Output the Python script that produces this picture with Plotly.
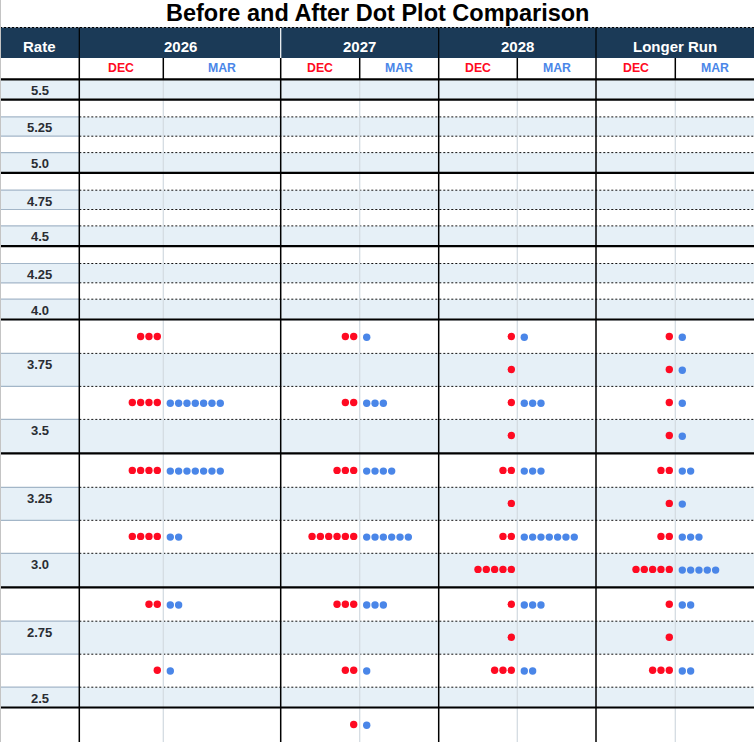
import plotly.graph_objects as go

# ---------------- data ----------------
title_text = "Before and After Dot Plot Comparison"
groups = ["2026", "2027", "2028", "Longer Run"]
sub_labels = ["DEC", "MAR"]

# every table row, top to bottom
row_rates = [5.5, 5.375, 5.25, 5.125, 5.0, 4.875, 4.75, 4.625, 4.5, 4.375, 4.25, 4.125, 4.0,
             3.875, 3.75, 3.625, 3.5, 3.375, 3.25, 3.125, 3.0, 2.875, 2.75, 2.625, 2.5, 2.375]
# labelled rows
label_rates = [5.5, 5.25, 5.0, 4.75, 4.5, 4.25, 4.0, 3.75, 3.5, 3.25, 3.0, 2.75, 2.5]
label_texts = ["5.5", "5.25", "5.0", "4.75", "4.5", "4.25", "4.0", "3.75", "3.5", "3.25", "3.0", "2.75", "2.5"]

# dot counts per rate level
dot_rates = [3.875, 3.75, 3.625, 3.5, 3.375, 3.25, 3.125, 3.0, 2.875, 2.75, 2.625, 2.5, 2.375]
dec_2026 = [3, 0, 4, 0, 4, 0, 4, 0, 2, 0, 1, 0, 0]
mar_2026 = [0, 0, 7, 0, 7, 0, 2, 0, 2, 0, 1, 0, 0]
dec_2027 = [2, 0, 2, 0, 3, 0, 6, 0, 3, 0, 2, 0, 1]
mar_2027 = [1, 0, 3, 0, 4, 0, 6, 0, 3, 0, 1, 0, 1]
dec_2028 = [1, 1, 1, 1, 2, 1, 2, 5, 1, 1, 3, 0, 0]
mar_2028 = [1, 0, 3, 0, 3, 0, 7, 0, 3, 0, 2, 0, 0]
dec_lr = [1, 1, 1, 1, 2, 1, 2, 5, 1, 1, 3, 0, 0]
mar_lr = [1, 1, 1, 1, 2, 1, 3, 5, 2, 0, 2, 0, 0]

dec_counts = [dec_2026, dec_2027, dec_2028, dec_lr]
mar_counts = [mar_2026, mar_2027, mar_2028, mar_lr]

# ---------------- style / layout ----------------
W, H = 754, 742
NAVY = "#1b3a57"
LIGHT = "#e6f0f7"
RED = "#ff0a22"
BLUE = "#4a86e8"
FONT = "Arial, Liberation Sans, sans-serif"

RATE_R = 79.3
group_edges = [79.3, 280.7, 438.7, 596.0, 754.0]
splits = [163.3, 359.7, 517.3, 675.3]
HEAD_TOP, HEAD_BOT, SUB_BOT = 27.5, 58.0, 79.3

has_dots = {}
for i, r in enumerate(dot_rates):
    tot = sum(c[i] for c in dec_counts) + sum(c[i] for c in mar_counts)
    has_dots[r] = tot > 0

def is_label(r):
    return abs(r * 4 - round(r * 4)) < 1e-9

def is_thick(r):
    return abs(r * 2 - round(r * 2)) < 1e-9

# row geometry
row_top, row_bot, row_mid = {}, {}, {}
y = SUB_BOT
for r in row_rates:
    extra = 1.9 if is_thick(r) else 0.0
    if has_dots.get(r, False):
        h = 33.0
    elif is_label(r):
        h = 19.3
    else:
        h = 16.4
    row_top[r] = y
    row_bot[r] = y + h + extra
    row_mid[r] = y + (h) / 2 - 0.4
    y = row_bot[r]

shapes = []
def line(x0, y0, x1, y1, color, width, dash=None):
    d = dict(type="line", xref="x", yref="y", x0=x0, y0=y0, x1=x1, y1=y1,
             line=dict(color=color, width=width), layer="above")
    if dash:
        d["line"]["dash"] = dash
    shapes.append(d)

def rect(x0, y0, x1, y1, color):
    shapes.append(dict(type="rect", xref="x", yref="y", x0=x0, y0=y0, x1=x1, y1=y1,
                       fillcolor=color, line=dict(width=0), layer="below"))

# header background
rect(0, HEAD_TOP, W, HEAD_BOT, NAVY)
# shaded rows
for r in row_rates:
    if is_label(r):
        rect(0, row_top[r], W, row_bot[r], LIGHT)

# row separators (none below the last, cut-off row)
for r in row_rates[:-1]:
    yb = row_bot[r]
    if is_thick(r):
        continue
    line(0, yb, RATE_R, yb, "#a3b6c8", 1.2)
    line(RATE_R, yb, W, yb, "#111111", 1, "2px,2px")

# vertical lines in body
body_bot = row_bot[row_rates[-1]] + 10
for s in splits:
    line(s, SUB_BOT, s, body_bot, "#d4dce2", 1.3)
    line(s, HEAD_BOT, s, SUB_BOT, "#000000", 1.5)
for gx in group_edges[:-1]:
    line(gx, HEAD_BOT, gx, body_bot, "#000000", 1.5)
# header separators
for gx, col in zip(group_edges[:-1], ["#000000", "#ffffff", "#000000", "#000000"]):
    line(gx, HEAD_TOP, gx, HEAD_BOT, col, 1.2)

# thick lines
line(0, SUB_BOT, W, SUB_BOT, "#000000", 2.2)
for r in row_rates:
    if is_thick(r):
        line(0, row_bot[r] - 0.9, W, row_bot[r] - 0.9, "#000000", 2.2)

# top dotted + left border
line(0, HEAD_TOP, W, HEAD_TOP, "#000000", 1, "2px,2px")
line(0.5, 0, 0.5, H, "#c4c4c4", 1)

annotations = []
def text(x, y, s, size, color, bold=True):
    annotations.append(dict(x=x, y=y, xref="x", yref="y", text=s, showarrow=False,
                            xanchor="center", yanchor="middle",
                            font=dict(family=FONT, size=size, color=color,
                                      weight=700 if bold else 400)))

text(W / 2, 12.5, title_text, 23.5, "#000000")
text(RATE_R / 2, 46.5, "Rate", 15, "#ffffff")
for g, x0, x1 in zip(groups, group_edges[:-1], group_edges[1:]):
    text((x0 + x1) / 2, 46.5, g, 15, "#ffffff")
for x0, s, x1 in zip(group_edges[:-1], splits, group_edges[1:]):
    text((x0 + s) / 2, 67.5, sub_labels[0], 12.3, RED)
    text((s + x1) / 2, 67.5, sub_labels[1], 12.3, BLUE)
for r, t in zip(label_rates, label_texts):
    text(RATE_R / 2, row_top[r] + 11, t, 13, "#2a2d33")

# dots
STEP = 8.33
dx, dy, mx, my = [], [], [], []
for gi, s in enumerate(splits):
    for i, r in enumerate(dot_rates):
        for k in range(dec_counts[gi][i]):
            dx.append(s - 6.0 - STEP * k)
            dy.append(row_mid[r])
        for k in range(mar_counts[gi][i]):
            mx.append(s + 7.0 + STEP * k)
            my.append(row_mid[r] + 0.7)

fig = go.Figure()
fig.add_trace(go.Scatter(x=dx, y=dy, mode="markers", name="DEC",
                         marker=dict(color=RED, size=7.4, line=dict(width=0)),
                         hoverinfo="skip"))
fig.add_trace(go.Scatter(x=mx, y=my, mode="markers", name="MAR",
                         marker=dict(color=BLUE, size=7.4, line=dict(width=0)),
                         hoverinfo="skip"))

fig.update_layout(
    width=W, height=H, margin=dict(l=0, r=0, t=0, b=0),
    paper_bgcolor="white", plot_bgcolor="white", showlegend=False,
    xaxis=dict(range=[0, W], visible=False, fixedrange=True),
    yaxis=dict(range=[H, 0], visible=False, fixedrange=True),
    shapes=shapes, annotations=annotations,
)

fig.write_html("out.html", config={"displayModeBar": False},
               post_script="document.body.style.margin='0';document.body.style.overflow='hidden';")
